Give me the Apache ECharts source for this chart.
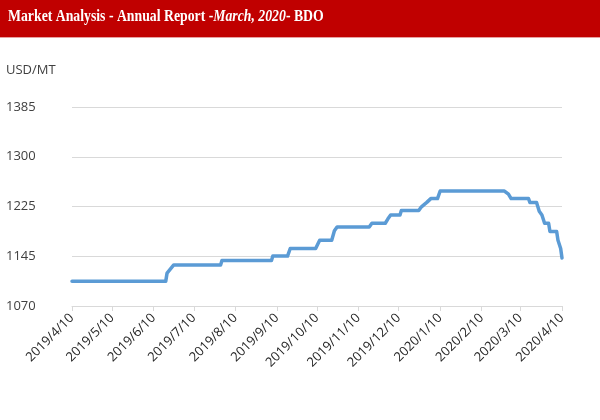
<!DOCTYPE html>
<html>
<head>
<meta charset="utf-8">
<script src="https://cdn.jsdelivr.net/npm/echarts@6/dist/echarts.min.js"></script>
<style>
html,body{margin:0;padding:0;background:#fff;}
#c{width:600px;height:420px;}
</style>
</head>
<body>
<div id="c"></div>
<script>
// ---- data ----
const titleMain = 'Market Analysis - Annual Report -';
const titleItalic = 'March, 2020';
const titleEnd = '- BDO';
const unitLabel = 'USD/MT';

const yTickLabels = ['1070', '1145', '1225', '1300', '1385'];
const xTickLabels = ['2019/4/10','2019/5/10','2019/6/10','2019/7/10','2019/8/10','2019/9/10','2019/10/10','2019/11/10','2019/12/10','2020/1/10','2020/2/10','2020/3/10','2020/4/10'];

const dates = [
  '2019/4/10','2019/6/19','2019/6/20','2019/6/25','2019/7/30','2019/7/31',
  '2019/9/6','2019/9/7','2019/9/18','2019/9/20','2019/10/9','2019/10/12',
  '2019/10/21','2019/10/23','2019/10/25','2019/11/18','2019/11/20','2019/11/30',
  '2019/12/2','2019/12/4','2019/12/11','2019/12/12','2019/12/25','2019/12/27',
  '2019/12/31','2020/1/3','2020/1/8','2020/1/10','2020/2/27','2020/3/1',
  '2020/3/3','2020/3/16','2020/3/17','2020/3/22','2020/3/24','2020/3/26',
  '2020/3/28','2020/3/31','2020/4/1','2020/4/6','2020/4/7','2020/4/9','2020/4/10'
];
const prices = [
  1109,1109,1122,1135,1135,1142,
  1142,1149,1149,1161,1161,1174,
  1174,1189,1195,1195,1201,1201,
  1208,1214,1214,1221,1221,1227,
  1234,1240,1240,1252,1252,1247,
  1240,1240,1234,1234,1220,1214,
  1201,1201,1188,1188,1174,1161,1146
];

// ---- helpers ----
function toTime(s){ const p = s.split('/').map(Number); return new Date(p[0], p[1]-1, p[2]).getTime(); }
function fmt(t){ const d = new Date(t); return d.getFullYear() + '/' + (d.getMonth()+1) + '/' + d.getDate(); }

const seriesData = dates.map((d, i) => [toTime(d), prices[i]]);
const xTicks = xTickLabels.map(toTime);
const yMin = 1070, yMax = 1385, yStep = (yMax - yMin) / (yTickLabels.length - 1);

const chart = echarts.init(document.getElementById('c'), null, {renderer: 'canvas'});
chart.setOption({
  animation: false,
  backgroundColor: '#ffffff',
  grid: {left: 72, right: 38, top: 107, bottom: 114, containLabel: false},
  graphic: [
    {type: 'rect', left: 0, top: 0, shape: {width: 600, height: 37}, style: {fill: '#c00000'}},
    {type: 'rect', left: 0, top: 37, shape: {width: 600, height: 1}, style: {fill: '#e8a0a0'}},
    {type: 'text', x: 8, y: 9, scaleX: 0.86, style: {
      rich: {
        b: {fontFamily: 'Liberation Serif', fontWeight: 'bold', fontSize: 16, fill: '#ffffff'},
        i: {fontFamily: 'Liberation Serif', fontWeight: 'bold', fontStyle: 'italic', fontSize: 16, fill: '#ffffff'}
      },
      text: '{b|' + titleMain + '}{i|' + titleItalic + '}{b|' + titleEnd + '}'
    }},
    {type: 'text', left: 6, top: 64, style: {text: unitLabel, fontFamily: 'Open Sans', fontSize: 13, fill: '#404040'}}
  ],
  xAxis: {
    type: 'value',
    min: xTicks[0],
    max: xTicks[xTicks.length - 1],
    splitLine: {show: false},
    axisLine: {show: true, lineStyle: {color: '#d9d9d9', width: 1}},
    axisTick: {show: true, customValues: xTicks, length: 5, lineStyle: {color: '#d9d9d9'}},
    axisLabel: {
      customValues: xTicks,
      rotate: 45,
      margin: 10,
      fontFamily: 'Open Sans',
      fontSize: 13,
      color: '#262626',
      formatter: function(v){ return fmt(v); },
      hideOverlap: false
    }
  },
  yAxis: {
    type: 'value',
    min: yMin,
    max: yMax,
    interval: yStep,
    axisLine: {show: false},
    axisTick: {show: false},
    splitLine: {show: true, lineStyle: {color: '#d9d9d9', width: 1}},
    axisLabel: {
      align: 'left',
      margin: 66,
      fontFamily: 'Open Sans',
      fontSize: 13,
      color: '#404040',
      padding: [0, 0, 9, 0],
      formatter: function(v){
        const idx = Math.round((v - yMin) / yStep);
        return yTickLabels[idx] !== undefined ? yTickLabels[idx] : '';
      }
    }
  },
  series: [{
    type: 'line',
    data: seriesData,
    showSymbol: false,
    symbol: 'none',
    lineStyle: {color: '#5b9bd5', width: 3.5, join: 'round', cap: 'round'},
    z: 5
  }]
});
</script>
</body>
</html>
